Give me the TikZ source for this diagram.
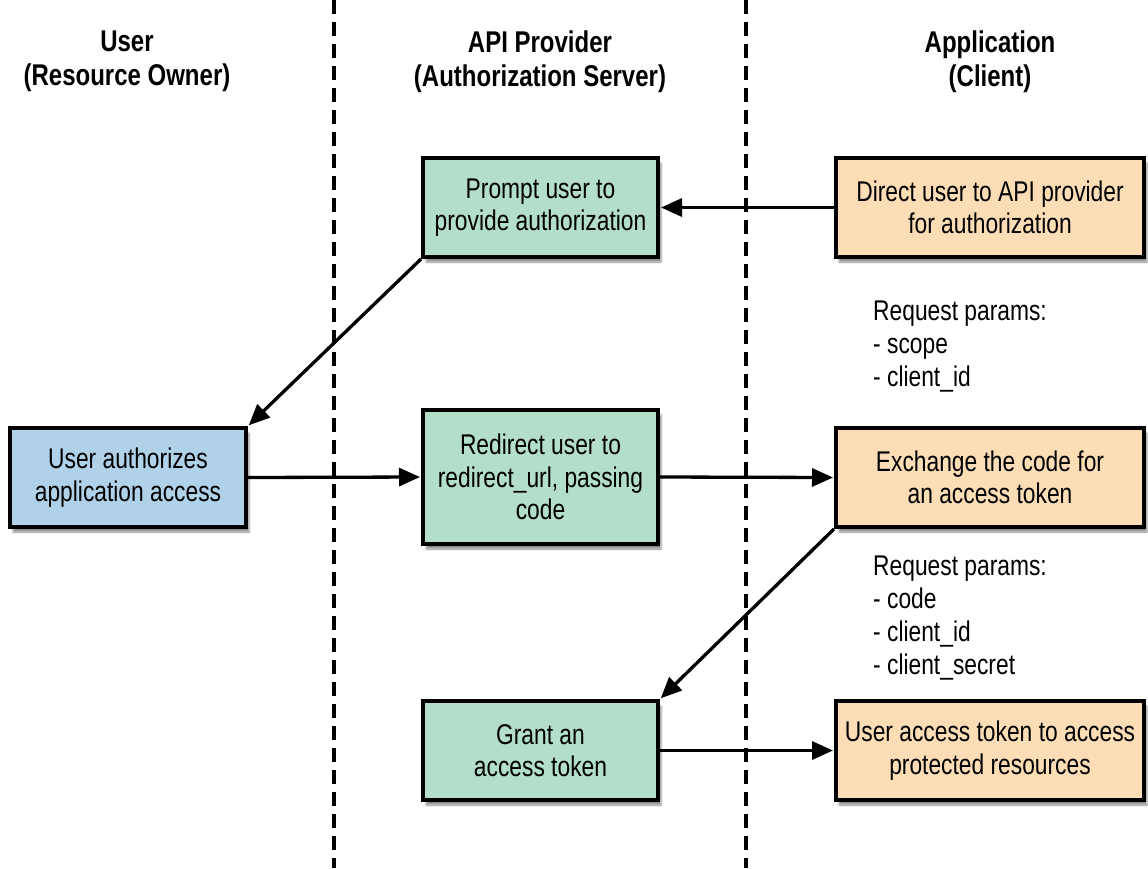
\documentclass[tikz,border=0pt]{standalone}
\usepackage{fontspec}
\setmainfont{Liberation Sans}[FakeStretch=0.80]
\usetikzlibrary{arrows.meta,shadows.blur}
\definecolor{boxgreen}{HTML}{B3DEC9}
\definecolor{boxblue}{HTML}{AFD2E9}
\definecolor{boxorange}{HTML}{FCDDB6}
\tikzset{
  flowbox/.style={draw=black, line width=4pt, rectangle, align=center,
    inner sep=4pt, font=\fontsize{28.5}{32.5}\selectfont,
    blur shadow={shadow xshift=3pt, shadow yshift=-5pt, shadow blur steps=6, shadow opacity=45}},
  greenbox/.style={flowbox, fill=boxgreen, minimum width=235pt, minimum height=99pt},
  bluebox/.style={flowbox, fill=boxblue, minimum width=236pt, minimum height=99pt},
  orangebox/.style={flowbox, fill=boxorange, minimum width=308pt, minimum height=99pt},
  header/.style={align=center, inner sep=0pt, anchor=north, font=\fontsize{30}{34}\selectfont\bfseries},
  params/.style={align=left, inner sep=0pt, anchor=north west, font=\fontsize{28.5}{33}\selectfont},
  flow/.style={line width=3.3pt, -{Triangle[length=21pt,width=18pt]}, shorten >=1pt},
  lane/.style={line width=3.3pt, dash pattern=on 14pt off 8pt}
}
\begin{document}
\begin{tikzpicture}[x=1pt,y=-1pt]
\useasboundingbox (0,0) rectangle (1148,868);
% lanes
\coordinate (l1t) at (334,0); \coordinate (l1b) at (334,868);
\coordinate (l2t) at (746,0); \coordinate (l2b) at (746,868);
\draw[lane] (l1t) -- (l1b);
\draw[lane] (l2t) -- (l2b);
% headers
\node[header] (h1) at (127,31) {User\\(Resource Owner)};
\node[header] (h2) at (540,31) {API Provider\\(Authorization Server)};
\node[header] (h3) at (990,31) {Application\\(Client)};
% boxes
\node[greenbox] (prompt) at (540.5,207.5) {Prompt user to\\provide authorization};
\node[orangebox] (direct) at (990,207.5) {Direct user to API provider\\for authorization};
\node[bluebox] (userauth) at (128,477.5) {User authorizes\\application access};
\node[greenbox, minimum height=134pt] (redirect) at (540.5,477) {Redirect user to\\redirect\_url, passing\\code};
\node[orangebox] (exchange) at (990,477.5) {Exchange the code for\\an access token};
\node[greenbox] (grant) at (540.5,750.5) {Grant an\\access token};
\node[orangebox] (usetoken) at (990,750.5) {User access token to access\\protected resources};
% params
\node[params] (p1) at (873,301) {Request params:\\- scope\\- client\_id};
\node[params] (p2) at (873,556) {Request params:\\- code\\- client\_id\\- client\_secret};
% arrows
\draw[flow] (direct.west) -- (prompt.east);
\draw[flow] (prompt.south west) -- (userauth.north east);
\draw[flow] (userauth.east) -- (redirect.west);
\draw[flow] (redirect.east) -- (exchange.west);
\draw[flow] (exchange.south west) -- (grant.north east);
\draw[flow] (grant.east) -- (usetoken.west);
\end{tikzpicture}
\end{document}
